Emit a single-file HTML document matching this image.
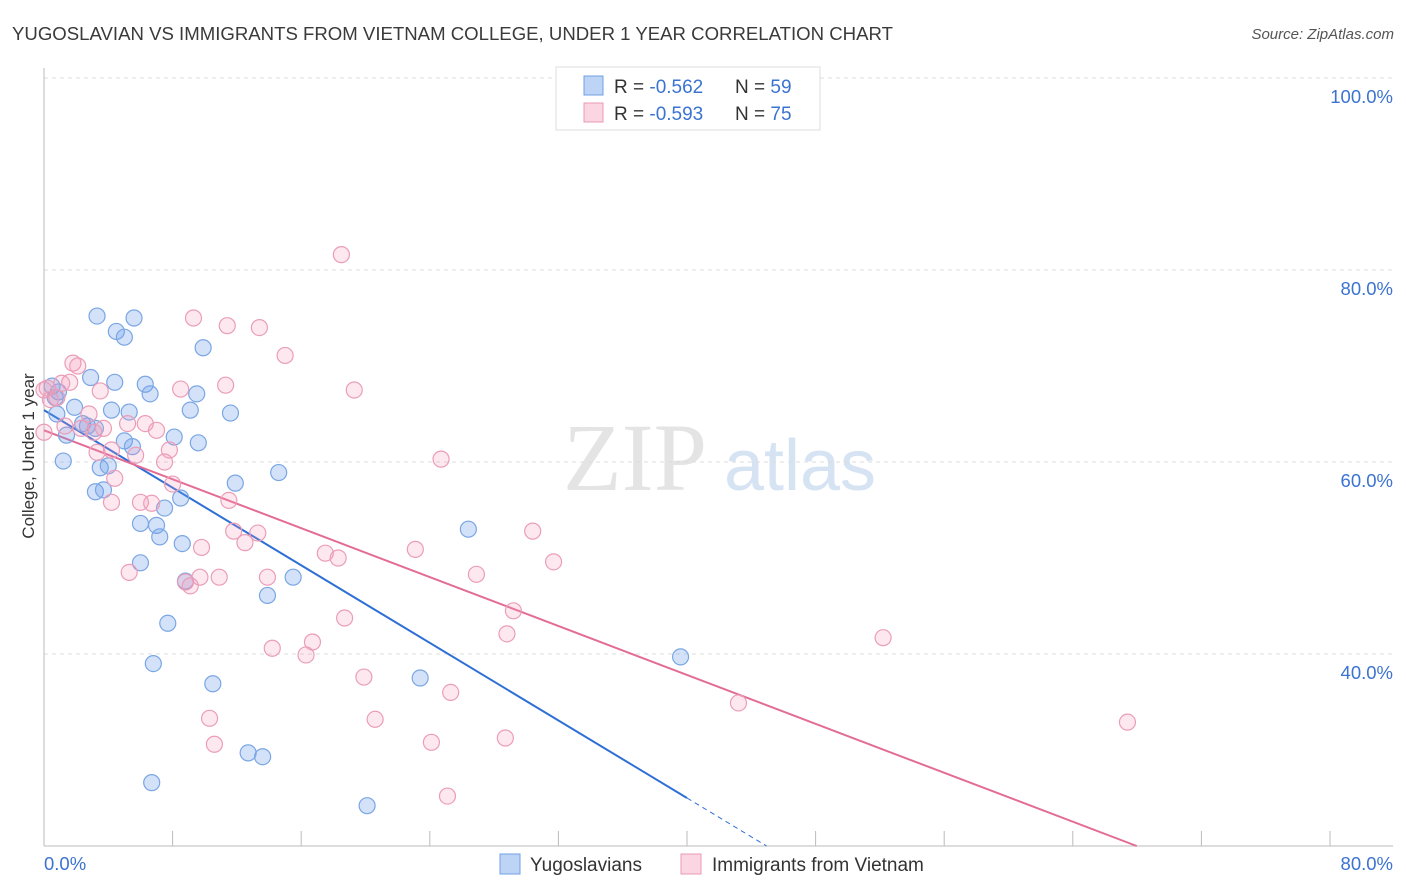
<!DOCTYPE html>
<html><head><meta charset="utf-8">
<style>
body{margin:0;background:#fff;font-family:"Liberation Sans",sans-serif;}
svg{display:block}
</style></head>
<body>
<svg id="chart" width="1406" height="892" xmlns="http://www.w3.org/2000/svg">
<text x="12" y="40" font-size="18.6" fill="#3a3a3a" font-family="Liberation Sans">YUGOSLAVIAN VS IMMIGRANTS FROM VIETNAM COLLEGE, UNDER 1 YEAR CORRELATION CHART</text>
<text x="1394" y="39" font-size="15" fill="#555" text-anchor="end" font-style="italic">Source: ZipAtlas.com</text>
<g>
<text x="635" y="490" font-size="96" fill="#e4e4e4" text-anchor="middle" font-family="Liberation Serif">ZIP</text>
<text x="800" y="490" font-size="72" fill="#d6e3f3" text-anchor="middle">atlas</text>
</g>
<g id="grid"></g>
<g id="axes"></g>
<g id="lines"></g>
<g id="points"></g>
<text transform="translate(34,456) rotate(-90)" font-size="17" fill="#333" text-anchor="middle">College, Under 1 year</text>
<g>
<rect x="556" y="67" width="264" height="63" fill="#fff" stroke="#ddd"/>
<rect x="584" y="76" width="19" height="19" fill="rgba(110,160,235,0.45)" stroke="#6f9fe0"/>
<rect x="584" y="103" width="19" height="19" fill="rgba(245,150,180,0.4)" stroke="#e899b4"/>
<text x="614" y="93" font-size="19" fill="#333">R = <tspan fill="#3b73d1">-0.562</tspan></text>
<text x="735" y="93" font-size="19" fill="#333">N = <tspan fill="#3b73d1">59</tspan></text>
<text x="614" y="120" font-size="19" fill="#333">R = <tspan fill="#3b73d1">-0.593</tspan></text>
<text x="735" y="120" font-size="19" fill="#333">N = <tspan fill="#3b73d1">75</tspan></text>
</g>
<g>
<rect x="500" y="854" width="20" height="20" fill="rgba(110,160,235,0.45)" stroke="#6f9fe0"/>
<text x="530" y="871" font-size="19" fill="#333">Yugoslavians</text>
<rect x="681" y="854" width="20" height="20" fill="rgba(245,150,180,0.4)" stroke="#e899b4"/>
<text x="712" y="871" font-size="19" fill="#333">Immigrants from Vietnam</text>
</g>
</svg>
<script>
const blueX=[3.3,5.6,4.5,5.0,9.9,2.9,4.4,6.3,6.6,9.5,0.5,0.9,0.7,1.9,4.2,5.3,9.1,11.6,0.8,2.4,2.7,3.2,1.4,8.1,5.0,5.5,9.6,1.2,3.5,4.0,14.6,11.9,3.2,3.7,8.5,7.5,6.0,7.0,7.2,8.6,26.4,6.0,8.8,15.5,13.9,7.7,6.8,39.6,10.5,23.4,12.7,13.6,6.7,20.1];
const blueY=[75.2,75.0,73.6,73.0,71.9,68.8,68.3,68.1,67.1,67.1,67.9,67.3,66.7,65.7,65.4,65.2,65.4,65.1,65.0,64.0,63.75,63.5,62.8,62.6,62.2,61.6,62.0,60.1,59.4,59.6,58.9,57.8,56.9,57.1,56.25,55.2,53.6,53.4,52.2,51.5,53.0,49.5,47.6,48.0,46.1,43.2,39.0,39.7,36.9,37.5,29.7,29.3,26.6,24.2];
const pinkX=[18.5,9.3,11.4,13.4,15.0,1.8,2.1,1.6,0.0,0.2,1.1,3.5,8.5,11.3,19.3,0.4,0.8,2.8,1.3,2.3,3.7,3.1,5.2,6.3,7.0,7.8,0.0,3.3,4.2,7.5,5.7,4.4,8.0,24.7,4.2,6.0,6.7,11.5,11.8,13.3,30.4,9.8,12.5,23.1,17.5,18.3,31.7,5.3,9.7,10.9,13.9,8.8,9.1,26.9,29.2,18.7,28.8,52.2,14.2,16.7,16.3,19.9,25.3,43.2,10.3,20.6,67.4,10.6,24.1,28.7,25.1];
const pinkY=[81.6,75.0,74.2,74.0,71.1,70.3,70.0,68.3,67.5,67.7,68.2,67.4,67.6,68.0,67.5,66.5,66.7,65.0,63.75,63.5,63.5,63.1,64.0,64.0,63.3,61.25,63.1,61.0,61.25,60.0,60.7,58.3,57.7,60.3,55.8,55.8,55.7,56.0,52.8,52.6,52.8,51.1,51.6,50.9,50.5,50.0,49.6,48.5,48.0,48.0,48.0,47.5,47.1,48.3,44.5,43.75,42.1,41.7,40.6,41.25,39.9,37.6,36.0,34.9,33.3,33.2,32.9,30.6,30.8,31.25,25.2];
const yTicks=[100,80,60,40];
const yTickLabels=["100.0%","80.0%","60.0%","40.0%"];
const xTicks=[0,8,16,24,32,40,48,56,64,72,80];
const blueLine=[65.4,-1.01];
const pinkLine=[63.3,-0.637];
const NS="http://www.w3.org/2000/svg";
const sx=v=>44+v*16.075, sy=v=>78+(100-v)*9.6;
function mk(tag,attrs,parent){const e=document.createElementNS(NS,tag);for(const k in attrs)e.setAttribute(k,attrs[k]);document.getElementById(parent).appendChild(e);return e;}
yTicks.forEach((t,i)=>{
 const g=mk('line',{x1:44,x2:1393,y1:sy(t),y2:sy(t),stroke:'#ddd','stroke-dasharray':'4,4'},'grid');
 
 
 const l=mk('text',{x:1393,y:sy(t)+25,'font-size':18.5,fill:'#3b73d1','text-anchor':'end'},'axes');
 l.textContent=yTickLabels[i];
 
 
});
const ya=mk('line',{x1:44,x2:44,y1:68,y2:846,stroke:'#bbb'},'axes');


const xa=mk('line',{x1:44,x2:1393,y1:846,y2:846,stroke:'#bbb'},'axes');


xTicks.forEach(t=>{
 const k=mk('line',{x1:sx(t),x2:sx(t),y1:831,y2:846,stroke:'#bbb'},'axes');
 
 
});
const x0=mk('text',{x:44,y:870,'font-size':18.5,fill:'#3b73d1'},'axes');x0.textContent='0.0%';


const x1=mk('text',{x:1393,y:870,'font-size':18.5,fill:'#3b73d1','text-anchor':'end'},'axes');x1.textContent='80.0%';


function dots(X,Y,fill,stroke,name){X.forEach((x,i)=>{
 const c=mk('circle',{cx:sx(x),cy:sy(Y[i]),r:8,fill:fill,stroke:stroke,'stroke-width':1.2},'points');
 
 
});}
dots(blueX,blueY,'rgba(110,160,235,0.3)','#7aa6e4','yugoslavian-point');
dots(pinkX,pinkY,'rgba(245,150,180,0.22)','#eb9db8','vietnam-point');
const bEnd=40, bZero=(20-blueLine[0])/blueLine[1];
const bl=mk('line',{x1:sx(0),y1:sy(blueLine[0]),x2:sx(bEnd),y2:sy(blueLine[0]+blueLine[1]*bEnd),stroke:'#2e6fd6','stroke-width':2},'lines');


const bd=mk('line',{x1:sx(bEnd),y1:sy(blueLine[0]+blueLine[1]*bEnd),x2:sx(bZero),y2:sy(20),stroke:'#2e6fd6','stroke-width':1,'stroke-dasharray':'5,4'},'lines');


const pZero=(20-pinkLine[0])/pinkLine[1];
const pl=mk('line',{x1:sx(0),y1:sy(pinkLine[0]),x2:sx(pZero),y2:sy(20),stroke:'#e36c96','stroke-width':2},'lines');


</script>
</body></html>
